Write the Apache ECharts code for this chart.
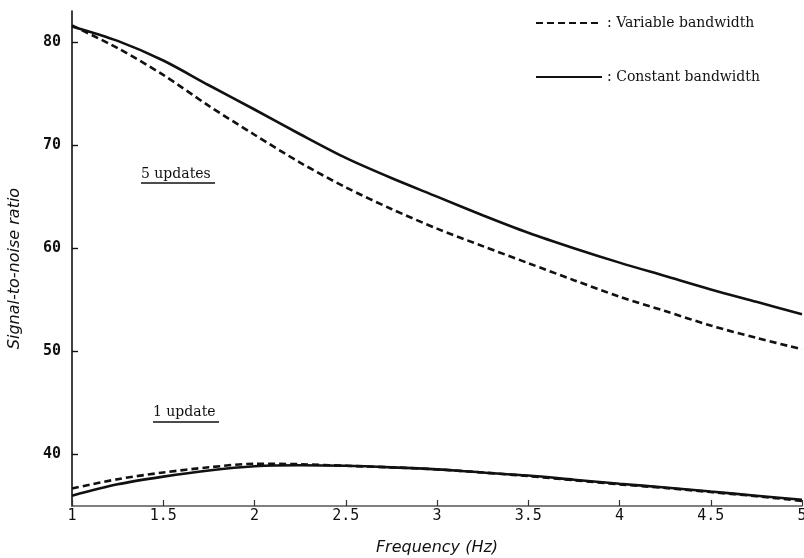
<!DOCTYPE html>
<html>
<head>
<meta charset="utf-8">
<script src="https://cdn.jsdelivr.net/npm/echarts@6/dist/echarts.min.js"></script>
<style>
  html, body { margin: 0; padding: 0; background: #fff; }
  #chart { width: 804px; height: 558px; }
</style>
</head>
<body>
<div id="chart"></div>
<script>
// Frequency (Hz)
const freq = [1, 1.25, 1.5, 1.75, 2, 2.25, 2.5, 2.75, 3, 3.25, 3.5, 3.75, 4, 4.25, 4.5, 4.75, 5];
// 5 updates
const snrVariable5 = [81.6, 79.4, 76.8, 73.8, 71.0, 68.3, 65.9, 63.8, 61.9, 60.2, 58.55, 56.9, 55.3, 53.9, 52.5, 51.3, 50.2];
const snrConstant5 = [81.5, 80.1, 78.2, 75.8, 73.45, 71.05, 68.75, 66.8, 65.0, 63.2, 61.5, 60.0, 58.6, 57.3, 56.0, 54.8, 53.6];
// 1 update
const snrVariable1 = [36.7, 37.6, 38.25, 38.75, 39.1, 39.05, 38.9, 38.75, 38.55, 38.25, 37.9, 37.5, 37.1, 36.75, 36.35, 35.95, 35.5];
const snrConstant1 = [36.0, 37.1, 37.85, 38.45, 38.85, 38.95, 38.9, 38.75, 38.55, 38.25, 37.95, 37.55, 37.15, 36.8, 36.4, 36.0, 35.6];
// Tick labels
const yTickValues = [40, 50, 60, 70, 80];
const xTickValues = [1, 1.5, 2, 2.5, 3, 3.5, 4, 4.5, 5];

const pairs = (ys) => freq.map((f, i) => [f, ys[i]]);

const chart = echarts.init(document.getElementById('chart'), null, { renderer: 'canvas' });

const dashedStyle = { color: '#111', width: 2.6, type: [7, 4] };
const solidStyle = { color: '#111', width: 2.6, type: 'solid' };

const legendText = { fontFamily: 'DejaVu Serif', fontSize: 14, color: '#111' };
const legendBase = {
  itemWidth: 66, itemHeight: 14, formatter: ': {name}',
  textStyle: legendText, selectedMode: false,
  itemStyle: { opacity: 0 }
};

const lineSeries = (name, ys, style) => ({
  name, type: 'line', data: pairs(ys), smooth: 0.3,
  symbol: 'none', showSymbol: false, lineStyle: style, itemStyle: { color: '#111' }
});

chart.setOption({
  animation: false,
  backgroundColor: '#fff',
  grid: { left: 72, right: 2, top: 11, bottom: 52, outerBoundsMode: 'none', containLabel: false },
  legend: [
    Object.assign({ data: ['Variable bandwidth'], left: 530, top: 11 }, legendBase),
    Object.assign({ data: ['Constant bandwidth'], left: 530, top: 65 }, legendBase)
  ],
  xAxis: {
    type: 'value', min: 1, max: 5, interval: 0.5,
    name: 'Frequency (Hz)', nameLocation: 'middle', nameGap: 34,
    nameTextStyle: { fontFamily: 'DejaVu Sans', fontStyle: 'italic', fontSize: 16, color: '#111' },
    axisLine: { show: true, lineStyle: { color: '#555', width: 1.6 } },
    axisTick: { show: true, inside: true, length: 6, lineStyle: { color: '#333', width: 1.2 } },
    axisLabel: {
      margin: 3, fontFamily: 'DejaVu Sans Mono', fontSize: 15, color: '#111',
      customValues: xTickValues,
      formatter: (v) => String(v)
    },
    splitLine: { show: false }
  },
  yAxis: {
    type: 'value', min: 35, max: 83,
    name: 'Signal-to-noise ratio', nameLocation: 'middle', nameGap: 49, nameRotate: 90,
    nameTextStyle: { fontFamily: 'DejaVu Sans', fontStyle: 'italic', fontSize: 16, color: '#111', padding: [0, 20, 0, 0] },
    axisLine: { show: true, lineStyle: { color: '#111', width: 1.6 } },
    axisTick: { show: true, inside: true, length: 6, customValues: yTickValues, lineStyle: { color: '#111', width: 1.4 } },
    axisLabel: {
      margin: 11, fontFamily: 'DejaVu Sans Mono', fontWeight: 'bold', fontSize: 15, color: '#111',
      customValues: yTickValues
    },
    splitLine: { show: false }
  },
  graphic: [
    { type: 'text', left: 141, top: 167, style: { text: '5 updates', font: '14px "DejaVu Serif"', fill: '#111' } },
    { type: 'line', shape: { x1: 141, y1: 183, x2: 215, y2: 183 }, style: { stroke: '#111', lineWidth: 1.4 } },
    { type: 'text', left: 153, top: 405, style: { text: '1 update', font: '14px "DejaVu Serif"', fill: '#111' } },
    { type: 'line', shape: { x1: 153, y1: 422, x2: 219, y2: 422 }, style: { stroke: '#111', lineWidth: 1.4 } }
  ],
  series: [
    lineSeries('Variable bandwidth', snrVariable5, dashedStyle),
    lineSeries('Constant bandwidth', snrConstant5, solidStyle),
    lineSeries('Variable bandwidth', snrVariable1, dashedStyle),
    lineSeries('Constant bandwidth', snrConstant1, solidStyle)
  ]
});
</script>
</body>
</html>
